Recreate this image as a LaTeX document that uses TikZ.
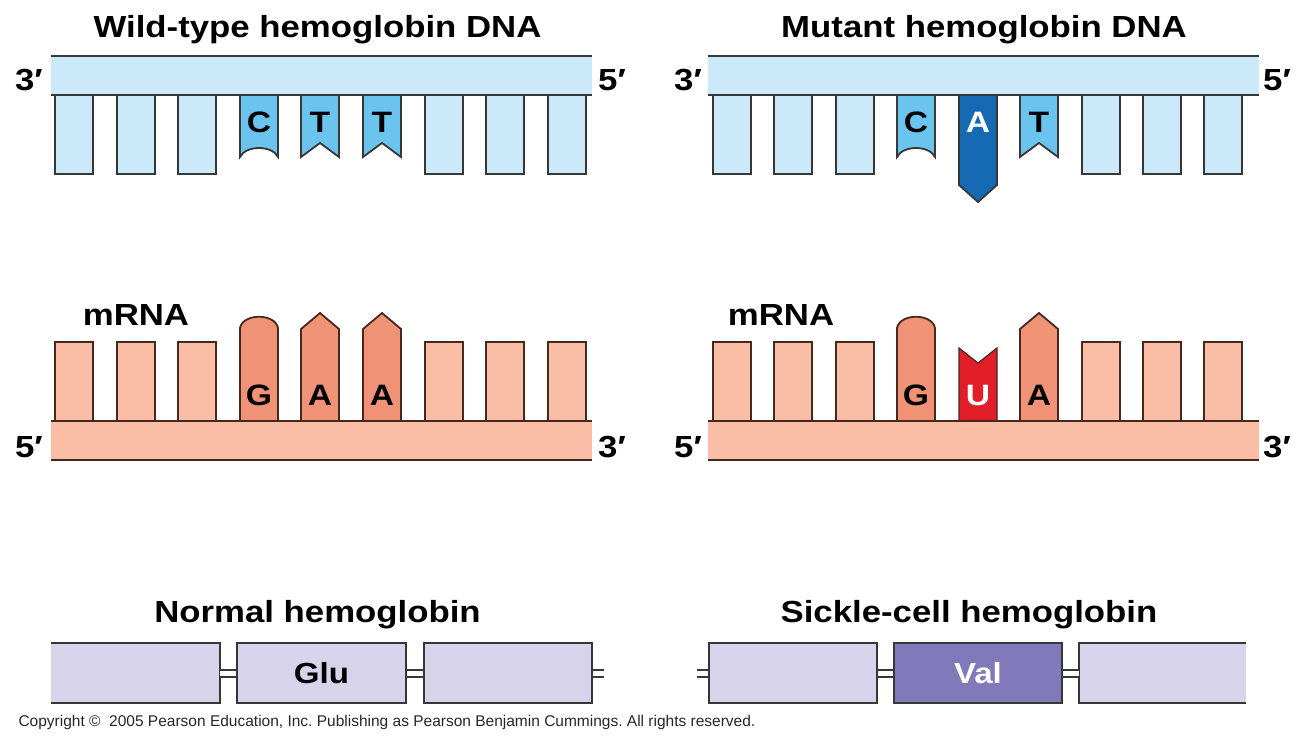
\documentclass[tikz,border=0pt]{standalone}
\usepackage{fontspec}
\setmainfont{Liberation Sans}
\usetikzlibrary{positioning}
\frenchspacing
\definecolor{dnalight}{RGB}{203,233,248}
\definecolor{dnamid}{RGB}{106,196,238}
\definecolor{dnadark}{RGB}{22,106,180}
\definecolor{rnalight}{RGB}{249,190,165}
\definecolor{rnamid}{RGB}{240,146,118}
\definecolor{rnared}{RGB}{226,30,40}
\definecolor{protlight}{RGB}{214,211,234}
\definecolor{protdark}{RGB}{129,121,186}
\definecolor{edgegray}{RGB}{55,55,55}
\definecolor{edgebrown}{RGB}{70,40,30}
\newcommand{\hwide}[1]{\scalebox{1.14}[1]{#1}}
\tikzset{
  heading/.style={font=\bfseries\fontsize{30.5}{33}\selectfont, anchor=base},
  endlabel/.style={font=\bfseries\fontsize{30.5}{33}\selectfont, anchor=base},
  baselabel/.style={font=\bfseries\fontsize{29.5}{31}\selectfont, anchor=base},
  dnaedge/.style={draw=edgegray, line width=1.8pt, line join=miter},
  rnaedge/.style={draw=edgebrown, line width=1.8pt, line join=miter},
  protbox/.style={fill=protlight, minimum height=60pt, inner sep=0pt,
    font=\bfseries\fontsize{29}{31}\selectfont},
  protedge/.style={draw=edgegray, line width=2pt},
  bond/.style={draw=edgegray, line width=2pt, double=white, double distance=5pt}
}
\begin{document}
\begin{tikzpicture}[x=1pt,y=-1pt]
\useasboundingbox (0,0) rectangle (1306,736);
%% headings
\node[heading] (wtdna) at (317.5,37) {\hwide{Wild-type hemoglobin DNA}};
\node[heading] (mutdna) at (984,37) {\hwide{Mutant hemoglobin DNA}};
\node[heading] (normal) at (317.5,622) {\hwide{Normal hemoglobin}};
\node[heading] (sickle) at (969,622) {\hwide{Sickle-cell hemoglobin}};

%% wild-type DNA strand
\foreach \x in {55,117,178,425,486,548}
  \filldraw[dnaedge, fill=dnalight] (\x,95) -- ++(0,79) -- ++(38,0) -- ++(0,-79);
\filldraw[dnaedge, fill=dnamid] (240,95) -- (240,157)
  .. controls (246,145) and (272,145) .. (278,157) -- (278,95);
\foreach \x in {301,363}
  \filldraw[dnaedge, fill=dnamid] (\x,95) -- (\x,157) -- ++(19,-14) -- ++(19,14) -- ++(0,-62);
\fill[dnalight] (51,56) rectangle (592,95);
\draw[dnaedge, line width=2.6pt] (51,56) -- (592,56);
\draw[dnaedge] (51,95) -- (592,95);
\node[baselabel] (wc) at (259,132) {\hwide{C}};
\node[baselabel] (wt1) at (320,132) {\hwide{T}};
\node[baselabel] (wt2) at (382,132) {\hwide{T}};
\node[endlabel] (w3) at (29,90) {\hwide{3′}};
\node[endlabel] (w5) at (612,90) {\hwide{5′}};

%% mutant DNA strand
\foreach \x in {713,774,836,1082,1143,1204}
  \filldraw[dnaedge, fill=dnalight] (\x,95) -- ++(0,79) -- ++(38,0) -- ++(0,-79);
\filldraw[dnaedge, fill=dnamid] (897,95) -- (897,157)
  .. controls (903,145) and (929,145) .. (935,157) -- (935,95);
\filldraw[dnaedge, fill=dnadark] (959,95) -- (959,185) -- ++(19,17) -- ++(19,-17) -- ++(0,-90);
\filldraw[dnaedge, fill=dnamid] (1020,95) -- (1020,157) -- ++(19,-14) -- ++(19,14) -- ++(0,-62);
\fill[dnalight] (708,56) rectangle (1259,95);
\draw[dnaedge, line width=2.6pt] (708,56) -- (1259,56);
\draw[dnaedge] (708,95) -- (1259,95);
\node[baselabel] (mc) at (916,132) {\hwide{C}};
\node[baselabel, text=white] (ma) at (978,132) {\hwide{A}};
\node[baselabel] (mt) at (1039,132) {\hwide{T}};
\node[endlabel] (m3) at (688,90) {\hwide{3′}};
\node[endlabel] (m5) at (1277,90) {\hwide{5′}};

%% wild-type mRNA
\node[endlabel] (wrna) at (136,325) {\hwide{mRNA}};
\foreach \x in {55,117,178,425,486,548}
  \filldraw[rnaedge, fill=rnalight] (\x,421) -- ++(0,-79) -- ++(38,0) -- ++(0,79);
\filldraw[rnaedge, fill=rnamid] (240,421) -- (240,328)
  .. controls (243,313) and (275,313) .. (278,328) -- (278,421);
\foreach \x in {301,363}
  \filldraw[rnaedge, fill=rnamid] (\x,421) -- (\x,329) -- ++(19,-16) -- ++(19,16) -- ++(0,92);
\fill[rnalight] (51,421) rectangle (592,460);
\draw[rnaedge] (51,421) -- (592,421);
\draw[rnaedge] (51,460) -- (592,460);
\node[baselabel] (wg) at (259,405) {\hwide{G}};
\node[baselabel] (wa1) at (320,405) {\hwide{A}};
\node[baselabel] (wa2) at (382,405) {\hwide{A}};
\node[endlabel] (wr5) at (29,457) {\hwide{5′}};
\node[endlabel] (wr3) at (612,457) {\hwide{3′}};

%% mutant mRNA
\node[endlabel] (mrna) at (781,325) {\hwide{mRNA}};
\foreach \x in {713,774,836,1082,1143,1204}
  \filldraw[rnaedge, fill=rnalight] (\x,421) -- ++(0,-79) -- ++(38,0) -- ++(0,79);
\filldraw[rnaedge, fill=rnamid] (897,421) -- (897,328)
  .. controls (900,313) and (932,313) .. (935,328) -- (935,421);
\filldraw[draw=edgebrown, line width=1.2pt, fill=rnared] (959,421) -- (959,348) -- ++(19,15) -- ++(19,-15) -- ++(0,73);
\filldraw[rnaedge, fill=rnamid] (1020,421) -- (1020,329) -- ++(19,-16) -- ++(19,16) -- ++(0,92);
\fill[rnalight] (708,421) rectangle (1259,460);
\draw[rnaedge] (708,421) -- (1259,421);
\draw[rnaedge] (708,460) -- (1259,460);
\node[baselabel] (mg) at (916,405) {\hwide{G}};
\node[baselabel, text=white] (mu) at (978,405) {\hwide{U}};
\node[baselabel] (ma2) at (1039,405) {\hwide{A}};
\node[endlabel] (mr5) at (688,457) {\hwide{5′}};
\node[endlabel] (mr3) at (1277,457) {\hwide{3′}};

%% normal hemoglobin chain
\node[protbox, minimum width=169pt] (n1) at (135.5,673) {};
\node[protbox, protedge, minimum width=169pt] (n2) at (321.5,673) {\hwide{Glu}};
\node[protbox, protedge, minimum width=168pt] (n3) at (508,673) {};
\draw[protedge] (n1.north west) -- (n1.north east) -- (n1.south east) -- (n1.south west);
\coordinate (ntail) at (604,673);
\draw[bond] (n1.east) -- (n2.west);
\draw[bond] (n2.east) -- (n3.west);
\draw[bond] (n3.east) -- (ntail);

%% sickle-cell hemoglobin chain
\node[protbox, protedge, minimum width=168pt] (s1) at (793,673) {};
\node[protbox, protedge, fill=protdark, text=white, minimum width=168pt] (s2) at (978,673) {\hwide{Val}};
\node[protbox, minimum width=167pt] (s3) at (1162.5,673) {};
\draw[protedge] (s3.north east) -- (s3.north west) -- (s3.south west) -- (s3.south east);
\coordinate (stail) at (697,673);
\draw[bond] (stail) -- (s1.west);
\draw[bond] (s1.east) -- (s2.west);
\draw[bond] (s2.east) -- (s3.west);

\node[anchor=base west, font=\fontsize{15.5}{17}\selectfont, text=black!85] (copy) at (15,726)
  {Copyright ©\ \ 2005 Pearson Education, Inc. Publishing as Pearson Benjamin Cummings. All rights reserved.};
\end{tikzpicture}
\end{document}
